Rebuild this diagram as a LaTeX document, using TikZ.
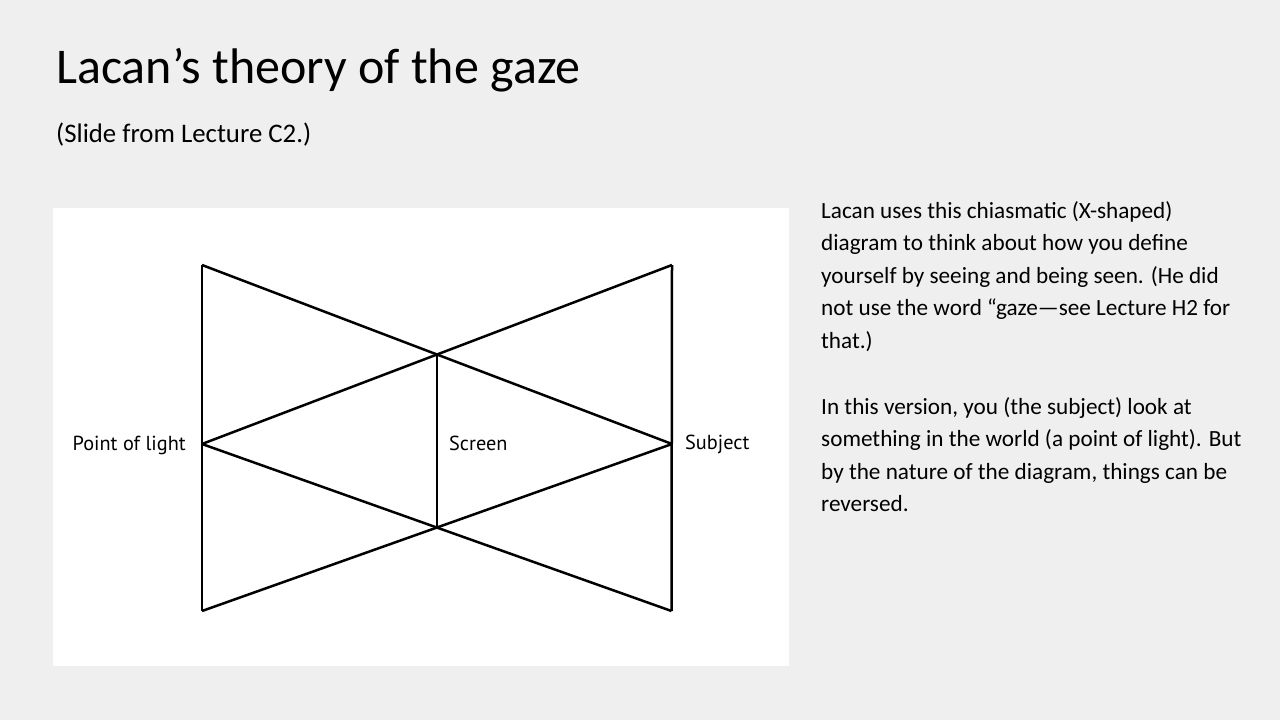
\documentclass[tikz,border=0pt]{standalone}
\usepackage{fontspec}
\setmainfont{Carlito}
\newfontfamily\labfont{PT Sans}
\definecolor{slidebg}{HTML}{EFEFEF}
\begin{document}
\begin{tikzpicture}[x=1pt,y=-1pt,
  edge/.style={line width=2.5pt,line join=miter,line cap=butt},
  lab/.style={font=\labfont\fontsize{20.3}{24}\selectfont,inner sep=0pt},
  body/.style={font=\fontsize{23.2}{32.5}\selectfont,inner sep=0pt,align=left,anchor=north west}]
\fill[slidebg] (0,0) rectangle (1280,720);
\useasboundingbox (0,0) rectangle (1280,720);
\node[font=\fontsize{50}{60}\selectfont,anchor=base west,inner sep=0pt] (title) at (56,83) {Lacan’s theory of the gaze};
\node[font=\fontsize{26.8}{32}\selectfont,anchor=base west,inner sep=0pt] (sub) at (56,142) {(Slide from Lecture C2.)};
\fill[white] (53,208) rectangle (789,666);
% vertices
\coordinate (TL) at (202,265);
\coordinate (BL) at (202,611);
\coordinate (ML) at (202,444);
\coordinate (TR) at (672,265);
\coordinate (BR) at (671.5,611);
\coordinate (MR) at (672,444);
\coordinate (CT) at (437,355);
\coordinate (CB) at (437,528);
\draw[edge] (TL) -- (BL);
\draw[edge] (TR) -- (BR);
\draw[edge] (CT) -- (CB);
\draw[edge] (TL) -- (MR);
\draw[edge] (TR) -- (ML);
\draw[edge] (ML) -- (BR);
\draw[edge] (MR) -- (BL);
\node[lab,anchor=base east] (pl) at (186,450) {Point of light};
\node[lab,anchor=base west] (sc) at (449,450) {Screen};
\node[lab,anchor=base west] (sj) at (685,449) {Subject};
\node[body] (p1) at (821,201) {Lacan uses this chiasmatic (X-shaped)\\diagram to think about how you define\\yourself by seeing and being seen. (He did\\not use the word “gaze—see Lecture H2 for\\that.)};
\node[body] (p2) at (821,397) {In this version, you (the subject) look at\\something in the world (a point of light). But\\by the nature of the diagram, things can be\\reversed.};
\end{tikzpicture}
\end{document}
